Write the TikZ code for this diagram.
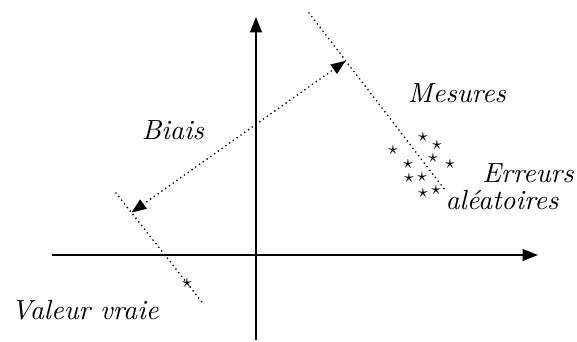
\documentclass[tikz,border=0pt]{standalone}
\usepackage{tikz}
\usetikzlibrary{arrows.meta,calc}

\tikzset{
  axis/.style={line width=0.8pt, -{Triangle[length=5.8pt,width=4.4pt]}},
  dotline/.style={line width=0.7pt, line cap=round, dash pattern=on 0pt off 1.75pt},
  lbl/.style={font=\fontsize{10.5}{12.5}\selectfont\itshape, inner sep=1pt},
  meas/.style={inner sep=0pt, font=\scriptsize}
}

\begin{document}
\begin{tikzpicture}
\useasboundingbox (-3.413,-1.147) rectangle (4.28,3.4);

% axes
\coordinate (xl) at (-2.72,0);
\coordinate (xr) at (3.76,0);
\coordinate (yb) at (0,-1.133);
\coordinate (yt) at (0,3.173);
\draw[axis] (xl) -- (xr);
\draw[axis] (yb) -- (yt);

% the two dotted lines
\coordinate (v1) at (-1.867,0.827);
\coordinate (v2) at (-0.72,-0.627);
\coordinate (m1) at (0.707,3.227);
\coordinate (m2) at (2.52,0.867);
\draw[dotline] (v1) -- (v2);
\draw[dotline] (m1) -- (m2);

% true value
\node[meas] (vv) at (-0.92,-0.373) {$\star$};
\node[lbl] (Val) at (-2.28,-0.733) {Valeur vraie};

% bias
\coordinate (bl) at ($(v1)!0.18!(v2)$);
\coordinate (br) at ($(m1)!0.27!(m2)$);
\draw[dotline, {Triangle[length=5.6pt,width=4.2pt]}-{Triangle[length=5.6pt,width=4.2pt]}] (bl) -- (br);
\node[lbl] (Bia) at (-1.107,1.667) {Biais};

% measurements
\foreach \x/\y [count=\i] in {2.227/1.573, 2.413/1.467, 1.827/1.4, 2.36/1.293,
  2.027/1.213, 2.587/1.213, 2.04/1.027, 2.213/1.04, 2.227/0.827, 2.4/0.867}
  \node[meas] (s\i) at (\x,\y) {$\star$};
\node[lbl] (Mes) at (2.68,2.16) {Mesures};
\node[lbl] (Err) at (3.627,1.093) {Erreurs};
\node[lbl] (Ale) at (3.28,0.733) {aléatoires};
\end{tikzpicture}
\end{document}
